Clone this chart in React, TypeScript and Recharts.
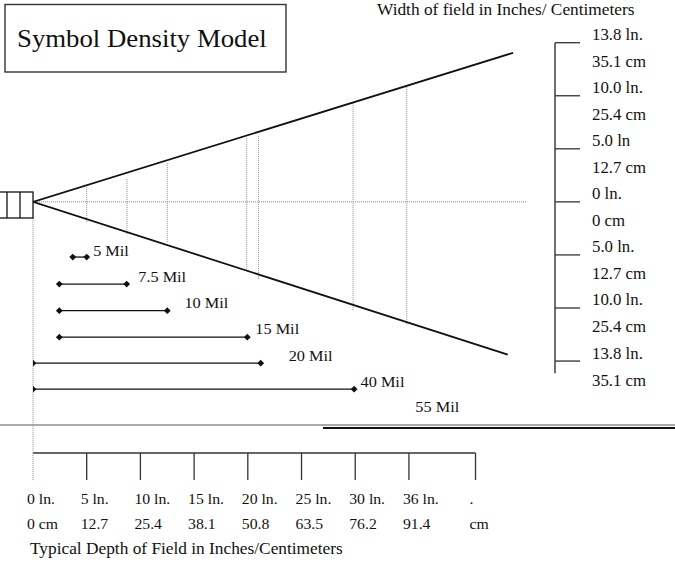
import {
  ComposedChart,
  Line,
  ReferenceLine,
  Scatter,
  XAxis,
  YAxis,
} from "recharts"

// depth of field (inches from the scanner face), bottom axis
const depthTicks = [0, 5, 10, 15, 20, 25, 30, 35, 41.2]
const depthInLabels = ["0 ln.", "5 ln.", "10 ln.", "15 ln.", "20 ln.", "25 ln.", "30 ln.", "36 ln.", "."]
const depthCmLabels = ["0 cm", "12.7", "25.4", "38.1", "50.8", "63.5", "76.2", "91.4", "cm"]

// width of field, right axis (one unit per tick step)
const widthTicks = [3, 2, 1, 0, -1, -2, -3]
const widthInLabels = ["13.8 ln.", "10.0 ln.", "5.0 ln", "0 ln.", "5.0 ln.", "10.0 ln.", "13.8 ln."]
const widthCmLabels = ["35.1 cm", "25.4 cm", "12.7 cm", "0 cm", "12.7 cm", "25.4 cm", "35.1 cm"]

// scan cone edges
const coneUpperDepth = [0, 44.7]
const coneUpperWidth = [0, 2.81]
const coneLowerDepth = [0, 44.2]
const coneLowerWidth = [0, -2.88]
const centerEnd = 46

// dotted verticals inside the cone
const guideDepth = [5.0, 8.75, 12.5, 19.9, 21.0, 29.8, 34.8]
const guideTop = [0.32, 0.43, 0.73, 1.2, 1.24, 1.86, 2.2]
const guideBottom = [-0.38, -0.63, -0.78, -1.28, -1.47, -2.04, -2.32]

// symbol density ranges
const milNames = ["5 Mil", "7.5 Mil", "10 Mil", "15 Mil", "20 Mil", "40 Mil", "55 Mil"]
const milStart = [3.7, 2.45, 2.45, 2.45, 0, 0, null]
const milEnd = [5.0, 8.72, 12.5, 19.95, 21.2, 29.9, null]
const milRow = [-1.04, -1.55, -2.05, -2.55, -3.04, -3.53, -3.86]
const milLabelDepth = [5.6, 9.8, 14.1, 20.7, 23.8, 30.5, 35.6]
const milLabelRow = [-0.92, -1.41, -1.9, -2.39, -2.89, -3.39, -3.86]

const X_DOMAIN: [number, number] = [0, 48.6]
const Y_DOMAIN: [number, number] = [-4.733, 3]
const RIGHT_AXIS_BOTTOM = -3.23

const FONT = "'Liberation Serif', 'Times New Roman', serif"
const SX = 1.05
const INK = "#111"
const DOT_GREY = "#8c8c8c"

function T({ x, y, size, sx = SX, children }: { x: number; y: number; size: number; sx?: number; children: any }) {
  return (
    <text
      transform={`translate(${x},${y}) scale(${sx},1)`}
      fontFamily={FONT}
      fontSize={size}
      fill={INK}
    >
      {children}
    </text>
  )
}

function DepthTick(props: any) {
  const { x, y, index } = props
  const first = index === 0
  return (
    <g>
      <line
        x1={x}
        y1={y}
        x2={x}
        y2={y + 27}
        stroke={first ? DOT_GREY : "#333"}
        strokeWidth={first ? 1 : 1.3}
        strokeDasharray={first ? "1 1" : undefined}
      />
      <T x={x - 6} y={y + 51} size={15}>
        {depthInLabels[index]}
      </T>
      <T x={x - 6} y={y + 76} size={15}>
        {depthCmLabels[index]}
      </T>
    </g>
  )
}

function WidthTick(props: any) {
  const { x, y, index } = props
  return (
    <g>
      <line x1={x} y1={y} x2={x + 25} y2={y} stroke="#333" strokeWidth={1.3} />
      <T x={x + 37} y={y - 2.5} size={16}>
        {widthInLabels[index]}
      </T>
      <T x={x + 37} y={y + 24.5} size={16}>
        {widthCmLabels[index]}
      </T>
    </g>
  )
}

function Diamond(props: any) {
  const { cx, cy, index } = props
  if (cx == null || cy == null) return <g key={index} />
  const r = 3.4
  return (
    <polygon
      key={index}
      points={`${cx - r},${cy} ${cx},${cy - r} ${cx + r},${cy} ${cx},${cy + r}`}
      fill={INK}
    />
  )
}

function MilLabel(props: any) {
  const { cx, cy, payload } = props
  return (
    <T x={cx} y={cy + 5.5} size={15.5}>
      {payload.name}
    </T>
  )
}

export default function App() {
  const coneUpper = coneUpperDepth.map((d, i) => ({ d, w: coneUpperWidth[i] }))
  const coneLower = coneLowerDepth.map((d, i) => ({ d, w: coneLowerWidth[i] }))
  const milLabels = milNames.map((name, i) => ({ name, d: milLabelDepth[i], w: milLabelRow[i] }))

  return (
    <div style={{ position: "absolute", left: 0, top: 0, width: 675, height: 568, background: "#fff" }}>
      <ComposedChart
        width={675}
        height={568}
        margin={{ top: 42.7, right: 0, bottom: 0, left: 33 }}
      >
        <XAxis
          type="number"
          dataKey="d"
          domain={X_DOMAIN}
          allowDataOverflow
          ticks={depthTicks}
          interval={0}
          axisLine={false}
          tickLine={false}
          tickSize={0}
          tickMargin={0}
          height={115}
          tick={(p: any) => <DepthTick key={p.index} {...p} />}
        />
        <YAxis
          type="number"
          dataKey="w"
          orientation="right"
          domain={Y_DOMAIN}
          allowDataOverflow
          ticks={widthTicks}
          interval={0}
          axisLine={false}
          tickLine={false}
          tickSize={0}
          tickMargin={0}
          width={120}
          tick={(p: any) => <WidthTick key={p.index} {...p} />}
        />

        {/* right axis spine and bottom axis spine */}
        <ReferenceLine
          segment={[{ x: X_DOMAIN[1], y: widthTicks[0] }, { x: X_DOMAIN[1], y: RIGHT_AXIS_BOTTOM }]}
          stroke="#333"
          strokeWidth={1.4}
        />
        <ReferenceLine
          segment={[{ x: 0, y: Y_DOMAIN[0] }, { x: depthTicks[depthTicks.length - 1], y: Y_DOMAIN[0] }]}
          stroke="#333"
          strokeWidth={1.4}
        />

        {/* center line and left dotted line */}
        <ReferenceLine
          segment={[{ x: 0, y: 0 }, { x: centerEnd, y: 0 }]}
          stroke={DOT_GREY}
          strokeDasharray="1 1"
        />
        <ReferenceLine
          segment={[{ x: 0, y: -0.3 }, { x: 0, y: Y_DOMAIN[0] }]}
          stroke={DOT_GREY}
          strokeDasharray="1 1"
        />

        {guideDepth.map((d, i) => (
          <ReferenceLine
            key={`g${i}`}
            segment={[{ x: d, y: guideTop[i] }, { x: d, y: guideBottom[i] }]}
            stroke={DOT_GREY}
            strokeDasharray="1 1"
          />
        ))}

        <Line
          data={coneUpper}
          dataKey="w"
          stroke={INK}
          strokeWidth={1.8}
          dot={false}
          activeDot={false}
          isAnimationActive={false}
        />
        <Line
          data={coneLower}
          dataKey="w"
          stroke={INK}
          strokeWidth={1.8}
          dot={false}
          activeDot={false}
          isAnimationActive={false}
        />

        {milNames.map((name, i) =>
          milStart[i] == null ? null : (
            <Line
              key={name}
              data={[
                { d: milStart[i], w: milRow[i] },
                { d: milEnd[i], w: milRow[i] },
              ]}
              dataKey="w"
              stroke={INK}
              strokeWidth={1.3}
              dot={(p: any) => <Diamond key={p.index} {...p} />}
              activeDot={false}
              isAnimationActive={false}
            />
          )
        )}

        <Scatter data={milLabels} dataKey="w" shape={MilLabel} isAnimationActive={false} />
      </ComposedChart>

      <svg
        width={675}
        height={568}
        style={{ position: "absolute", left: 0, top: 0, pointerEvents: "none" }}
      >
        {/* title box */}
        <rect x={5} y={4.5} width={281} height={67.5} fill="none" stroke="#333" strokeWidth={1.4} />
        <T x={17} y={47} size={26} sx={1.03}>
          Symbol Density Model
        </T>
        <T x={377} y={14.5} size={16.5}>
          Width of field in Inches/ Centimeters
        </T>
        <T x={30} y={554} size={16.5}>
          Typical Depth of Field in Inches/Centimeters
        </T>

        {/* scanner */}
        <rect x={-4} y={192} width={37} height={26} fill="#fff" stroke={INK} strokeWidth={1.3} />
        <line x1={7} y1={192} x2={7} y2={218} stroke={INK} strokeWidth={1.3} />
        <line x1={20} y1={192} x2={20} y2={218} stroke={INK} strokeWidth={1.3} />

        {/* separator */}
        <line x1={0} y1={425} x2={675} y2={425} stroke="#8f8f8f" strokeWidth={1.6} />
        <line x1={323} y1={428} x2={675} y2={428} stroke="#111" strokeWidth={2} />
      </svg>
    </div>
  )
}
